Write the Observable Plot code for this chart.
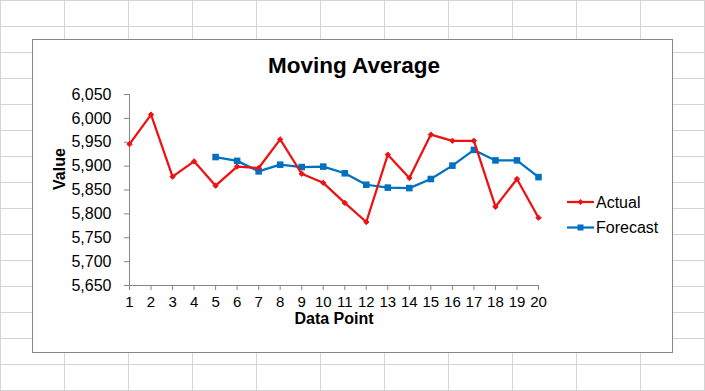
<!DOCTYPE html>
<html><head><meta charset="utf-8">
<script src="https://cdn.jsdelivr.net/npm/d3@7"></script>
<script src="https://cdn.jsdelivr.net/npm/@observablehq/plot@0.6"></script>
<style>
html,body{margin:0;padding:0;}
body{width:705px;height:391px;position:relative;overflow:hidden;background-color:#fff;
background-image:linear-gradient(to right,#d4d4d4 1px,transparent 1px),linear-gradient(to bottom,#d4d4d4 1px,transparent 1px);
background-size:64px 26px;background-position:0 0;font-family:"Liberation Sans",Arial,sans-serif;}
#box{position:absolute;left:32px;top:39px;width:641px;height:314px;box-sizing:border-box;border:1px solid #868686;background:#fff;}
#chart{position:absolute;left:0;top:0;}
#chart svg{display:block;}
#legend{position:absolute;left:0;top:0;pointer-events:none;}
</style></head>
<body>
<div id="box"></div>
<div id="chart"></div>
<svg id="legend" width="705" height="391"></svg>
<script>
const points = [1,2,3,4,5,6,7,8,9,10,11,12,13,14,15,16,17,18,19,20];
const actual = [5946,6008,5878,5910,5859,5899,5896,5956,5884,5865,5823,5783,5924,5875,5966,5953,5953,5815,5873,5792];
const forecast = [null,null,null,null,5919,5911,5889,5903,5898,5899,5885,5861,5855,5854,5873,5901,5934,5912,5912,5877];
const yTicks = [5650,5700,5750,5800,5850,5900,5950,6000,6050];
const seriesNames = ["Actual","Forecast"];
const title = "Moving Average";
const xTitle = "Data Point";
const yTitle = "Value";

const RED = "#ee1111", BLUE = "#0070c0", AXIS = "#868686";
const FONT = '"Liberation Sans", Arial, sans-serif';

const actualData = points.map((p,i)=>({x:p,y:actual[i]}));
const forecastData = points.map((p,i)=>({x:p,y:forecast[i]})).filter(d=>d.y!=null);

const chart = Plot.plot({
  width:705, height:391,
  marginLeft:129, marginRight:167, marginTop:94, marginBottom:106,
  style:{background:"transparent", fontFamily:FONT, fontSize:"16px", color:"#000"},
  x:{domain:[1,20]},
  y:{domain:[5650,6050]},
  marks:[
    Plot.axisY({ticks:yTicks, tickFormat:d3.format(","), tickSize:5, tickPadding:13, stroke:AXIS, label:null, fontSize:16}),
    Plot.axisX({ticks:points, tickFormat:d=>String(d), tickSize:5, tickPadding:6, stroke:AXIS, label:null, fontSize:15}),
    Plot.ruleX([1], {stroke:AXIS}),
    Plot.ruleY([5650], {stroke:AXIS}),
    Plot.line(forecastData, {x:"x", y:"y", stroke:BLUE, strokeWidth:2.25}),
    Plot.dot(forecastData, {x:"x", y:"y", symbol:"square", r:3.7, fill:BLUE, stroke:"none"}),
    Plot.line(actualData, {x:"x", y:"y", stroke:RED, strokeWidth:2.25}),
    Plot.dot(actualData, {x:"x", y:"y", symbol:"diamond2", r:2.4, fill:RED, stroke:RED, strokeWidth:1}),
    Plot.text([title], {text:d=>d, frameAnchor:"top", dx:20, dy:-37.5, fontSize:22.5, fontWeight:"bold", fill:"#000"}),
    Plot.text([yTitle], {text:d=>d, frameAnchor:"left", dx:-70, rotate:-90, fontSize:16, fontWeight:"bold", fill:"#000"}),
    Plot.text([xTitle], {text:d=>d, frameAnchor:"bottom", dy:38.5, fontSize:16, fontWeight:"bold", fill:"#000"})
  ]
});
document.getElementById("chart").appendChild(chart);

// legend
const lg = d3.select("#legend");
const legendItems = [{name:seriesNames[0], color:RED, sym:"diamond", y:202},{name:seriesNames[1], color:BLUE, sym:"square", y:227.5}];
for (const it of legendItems) {
  lg.append("line").attr("x1",567).attr("x2",594).attr("y1",it.y).attr("y2",it.y).attr("stroke",it.color).attr("stroke-width",2.25);
  if (it.sym==="square") lg.append("rect").attr("x",577.5).attr("y",it.y-3).attr("width",6).attr("height",6).attr("fill",it.color);
  else lg.append("path").attr("d",`M580.5,${it.y-3}L583.5,${it.y}L580.5,${it.y+3}L577.5,${it.y}Z`).attr("fill",it.color);
  lg.append("text").attr("x",596).attr("y",it.y+5.5).attr("font-family",FONT).attr("font-size",16).attr("fill","#000").text(it.name);
}
</script>
</body></html>
